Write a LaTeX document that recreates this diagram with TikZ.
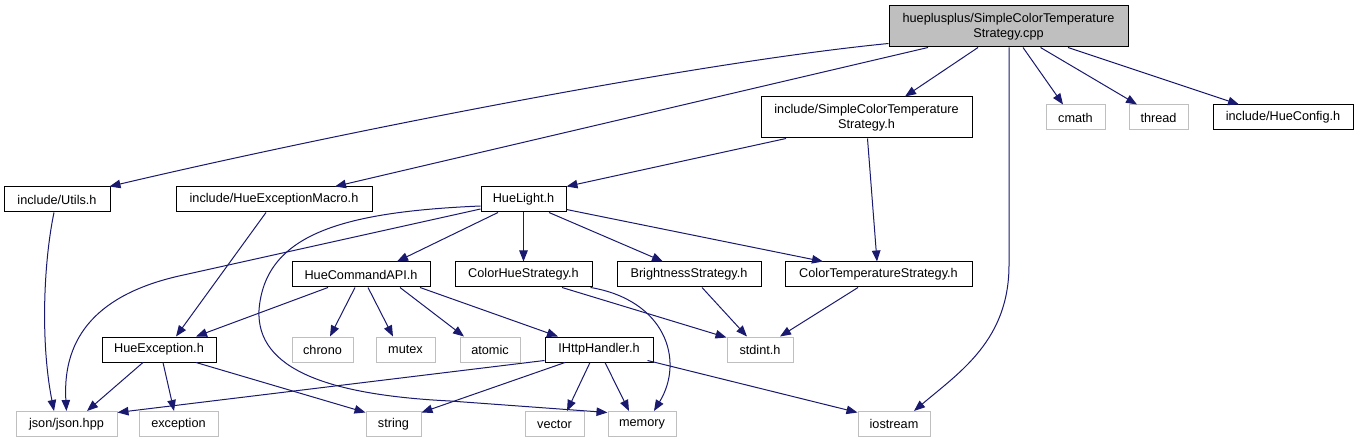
\documentclass[tikz,border=0pt]{standalone}
\usepackage{fontspec}
\setmainfont{Liberation Sans}
\usetikzlibrary{arrows.meta}
\definecolor{edgec}{HTML}{191970}
\definecolor{grayb}{HTML}{BFBFBF}
\tikzset{
  box/.style={draw=black, line width=1pt, inner sep=0pt, font=\fontsize{12.7}{15}\selectfont, minimum height=25pt, align=center, fill=white},
  blk/.style={box},
  gry/.style={box, draw=grayb},
  topbox/.style={box, fill=grayb, minimum height=41pt},
  twoline/.style={box, minimum height=41pt},
  edge/.style={draw=edgec, line width=1pt, -{Triangle[length=11pt,width=8.5pt]}},
}
\begin{document}
\begin{tikzpicture}[x=1pt,y=-1pt]
\useasboundingbox (0,0) rectangle (1359,443);
% nodes
\node[topbox, minimum width=239] (top) at (1008.5,26.5) {hueplusplus/SimpleColorTemperature\\Strategy.cpp};
\node[twoline, minimum width=211] (sct) at (866.5,117.5) {include/SimpleColorTemperature\\Strategy.h};
\node[gry, minimum width=59] (cmath) at (1075.5,117.5) {cmath};
\node[gry, minimum width=59] (thread) at (1158.5,117.5) {thread};
\node[blk, minimum width=140] (hueconfig) at (1283,117.5) {include/HueConfig.h};
\node[blk, minimum width=106] (utils) at (57,199.5) {include/Utils.h};
\node[blk, minimum width=196] (macro) at (274,199.5) {include/HueExceptionMacro.h};
\node[blk, minimum width=85] (huelight) at (523.5,199.5) {HueLight.h};
\node[blk, minimum width=138] (cmdapi) at (361,274.5) {HueCommandAPI.h};
\node[blk, minimum width=137] (colorhue) at (523.5,274.5) {ColorHueStrategy.h};
\node[blk, minimum width=144] (bright) at (689,274.5) {BrightnessStrategy.h};
\node[blk, minimum width=187] (ctstrat) at (878.5,274.5) {ColorTemperatureStrategy.h};
\node[blk, minimum width=114] (hueexc) at (159,349.5) {HueException.h};
\node[gry, minimum width=61] (chrono) at (322.5,349.5) {chrono};
\node[gry, minimum width=59] (mutex) at (405.5,349.5) {mutex};
\node[gry, minimum width=60] (atomic) at (490,349.5) {atomic};
\node[blk, minimum width=108] (ihttp) at (599,349.5) {IHttpHandler.h};
\node[gry, minimum width=66] (stdint) at (760,349.5) {stdint.h};
\node[gry, minimum width=101] (json) at (66.5,424) {json/json.hpp};
\node[gry, minimum width=79] (exception) at (178.5,424) {exception};
\node[gry, minimum width=55] (string) at (393.5,424) {string};
\node[gry, minimum width=59] (vector) at (554.5,424) {vector};
\node[gry, minimum width=68] (memory) at (642,424) {memory};
\node[gry, minimum width=72] (iostream) at (894,424) {iostream};
% edges
\draw[edge] ([yshift=4]top.south west) .. controls (700,62) and (350,130) .. ([xshift=-1]utils.north east);
\draw[edge] ([xshift=-80.5]top.south) -- ([xshift=61]macro.north);
\draw[edge] ([xshift=-30.5]top.south) -- ([xshift=38.5]sct.north);
\draw[edge] ([xshift=0.5]top.south) -- (1009,265) .. controls (1009,340) and (960,372) .. ([xshift=20]iostream.north);
\draw[edge] ([xshift=14.5]top.south) -- ([xshift=-12.5]cmath.north);
\draw[edge] ([xshift=32]top.south) -- ([xshift=-21.5]thread.north);
\draw[edge] ([xshift=59.5]top.south) -- ([xshift=-44]hueconfig.north);
\draw[edge] ([xshift=-80.5]sct.south) -- (huelight.north east);
\draw[edge] ([xshift=1]sct.south) -- ([xshift=-1.5]ctstrat.north);
\draw[edge] ([xshift=-3]utils.south) .. controls (44,260) and (40,340) .. ([xshift=-12.5]json.north);
\draw[edge] ([xshift=-8]macro.south) -- ([xshift=17]hueexc.north);
\draw[edge] ([yshift=-9.5]huelight.west) -- (179,276) .. controls (100,294) and (62,335) .. (json.north);
\draw[edge] ([yshift=-6.5]huelight.west) .. controls (340,212) and (265,235) .. (259,310) .. controls (256,370) and (330,395) .. (450,401) -- ([yshift=-1.5]memory.north west);
\draw[edge] ([xshift=-25.5]huelight.south) -- ([xshift=36]cmdapi.north);
\draw[edge] (huelight.south) -- (colorhue.north);
\draw[edge] ([xshift=25.5]huelight.south) -- ([xshift=-26]bright.north);
\draw[edge] ([yshift=3]huelight.south east) -- ([xshift=-55.5]ctstrat.north);
\draw[edge] ([xshift=-33]cmdapi.south) -- ([xshift=37]hueexc.north);
\draw[edge] ([xshift=-6]cmdapi.south) -- ([xshift=7.5]chrono.north);
\draw[edge] ([xshift=7]cmdapi.south) -- ([xshift=-12.5]mutex.north);
\draw[edge] ([xshift=39]cmdapi.south) -- ([xshift=-26]atomic.north);
\draw[edge] ([xshift=59]cmdapi.south) -- ([xshift=-41]ihttp.north);
\draw[edge] ([xshift=38.5]colorhue.south) -- ([yshift=-1]stdint.north west);
\draw[edge] ([xshift=-2]colorhue.south east) .. controls (665,300) and (685,360) .. ([xshift=12]memory.north);
\draw[edge] ([xshift=13]bright.south) -- ([xshift=-13]stdint.north);
\draw[edge] ([xshift=-20.5]ctstrat.south) -- ([xshift=20]stdint.north);
\draw[edge] ([xshift=-16]hueexc.south) -- ([xshift=20.5]json.north);
\draw[edge] ([xshift=4]hueexc.south) -- ([xshift=-4.5]exception.north);
\draw[edge] ([xshift=37]hueexc.south) -- ([yshift=-1.5]string.north west);
\draw[edge] ([yshift=2]ihttp.south west) -- ([yshift=-1.5]json.north east);
\draw[edge] ([xshift=-34]ihttp.south) -- ([yshift=-1.5]string.north east);
\draw[edge] ([xshift=-9]ihttp.south) -- ([xshift=12.5]vector.north);
\draw[edge] ([xshift=6]ihttp.south) -- ([xshift=-13]memory.north);
\draw[edge] ([xshift=-6,yshift=2]ihttp.south east) -- ([yshift=-1.5]iostream.north west);
\end{tikzpicture}
\end{document}
